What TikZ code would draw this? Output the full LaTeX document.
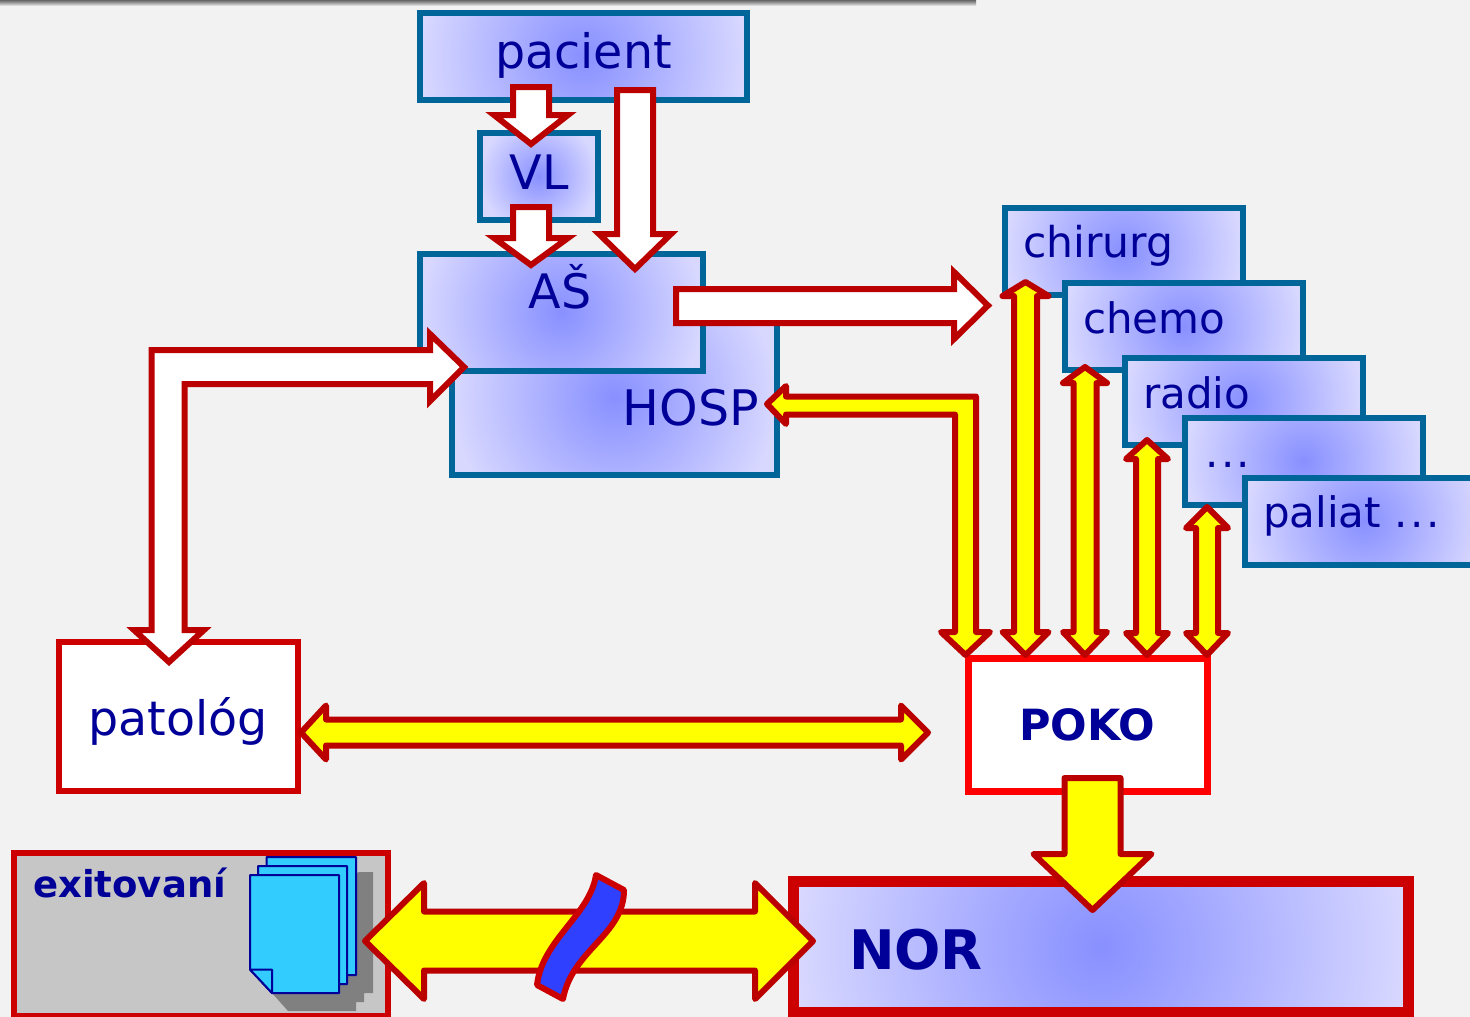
\documentclass[tikz,border=0pt]{standalone}
\usepackage{fontspec}
\setmainfont{DejaVu Sans}
\usetikzlibrary{calc}
\definecolor{bgc}{HTML}{F2F2F2}
\definecolor{boxedge}{HTML}{006699}
\definecolor{inkc}{HTML}{000099}
\definecolor{arrowred}{HTML}{BB0000}
\definecolor{darkred}{HTML}{CC0000}
\definecolor{purered}{HTML}{FF0000}
\definecolor{yel}{HTML}{FFFF00}
\definecolor{wavec}{HTML}{3040FF}
\definecolor{exitc}{HTML}{C6C6C6}
\definecolor{shadowc}{HTML}{808080}
\definecolor{gradmid}{HTML}{8890FF}
\definecolor{gradout}{HTML}{D8D8FF}
\definecolor{pagec}{HTML}{33CCFF}
\pgfdeclareradialshading{bluegrad}{\pgfpoint{0bp}{0bp}}{color(0bp)=(gradmid); color(25bp)=(gradout); color(50bp)=(gradout)}
\tikzset{
  gradbox/.style={draw=boxedge,line width=6pt,fill=gradout,inner sep=0pt,outer sep=0pt,
    path picture={\shade[shading=bluegrad] (path picture bounding box.center) circle (#1pt);}},
  lab/.style={text=inkc,inner sep=0pt,font=\fontsize{#1}{#1}\selectfont},
  blab/.style={text=inkc,inner sep=0pt,font=\fontsize{#1}{#1}\selectfont\bfseries},
  whitearrow/.style={draw=arrowred,fill=white,line width=6pt,line join=miter,miter limit=10},
  yellowarrow/.style={draw=arrowred,fill=yel,line width=6pt,line join=round},
  pagesheet/.style={draw=inkc,fill=pagec,line width=2pt,line join=round},
}
% x, ytop, ybase, ytip, half body, half head, style
\newcommand{\bkdown}[7]{\draw[#7] ({#1-#5},#2) -- ({#1+#5},#2) -- ({#1+#5},#3) -- ({#1+#6},#3) -- (#1,#4) -- ({#1-#6},#3) -- ({#1-#5},#3) -- cycle;}
% x, ytiptop, ybasetop, ybasebot, ytipbot, half body, half head
\newcommand{\bkvdouble}[7]{\draw[yellowarrow] (#1,#2) -- ({#1+#7},#3) -- ({#1+#6},#3) -- ({#1+#6},#4) -- ({#1+#7},#4) -- (#1,#5) -- ({#1-#7},#4) -- ({#1-#6},#4) -- ({#1-#6},#3) -- ({#1-#7},#3) -- cycle;}
% y, xtipl, xbasel, xbaser, xtipr, half body, half head
\newcommand{\bkhdouble}[7]{\draw[yellowarrow] (#2,#1) -- (#3,{#1-#7}) -- (#3,{#1-#6}) -- (#4,{#1-#6}) -- (#4,{#1-#7}) -- (#5,#1) -- (#4,{#1+#7}) -- (#4,{#1+#6}) -- (#3,{#1+#6}) -- (#3,{#1+#7}) -- cycle;}
% name, x0,y0,x1,y1 (centre lines)
\newcommand{\gbox}[5]{\pgfmathsetmacro{\rad}{(#4-#2)/2}\node[gradbox=\rad,minimum width={(#4-#2)*1pt},minimum height={(#5-#3)*1pt}] (#1) at ({(#2+#4)/2},{(#3+#5)/2}) {};}
\newcommand{\wdots}{.\kern2.5pt.\kern2.5pt.}
\begin{document}
\begin{tikzpicture}[x=1pt,y=-1pt]
\useasboundingbox (0,0) rectangle (1470,1017);
\fill[bgc] (0,0) rectangle (1470,1017);
% top shadow band
\shade[top color=black!60,bottom color=bgc,middle color=black!35] (0,0) rectangle (976,6);
% boxes
\gbox{pacient}{419.5}{12.5}{746.5}{99.5}
\gbox{vl}{479.5}{132.5}{597.5}{219.5}
\gbox{hosp}{451.5}{320}{776.5}{474.5}
\gbox{as}{419.5}{253.5}{702.5}{370.5}
\gbox{chirurg}{1004.5}{207.5}{1242.5}{294.5}
\gbox{chemo}{1064.5}{282.5}{1302.5}{369.5}
\gbox{radio}{1124.5}{357.5}{1362.5}{444.5}
\gbox{dots}{1184.5}{417.5}{1422.5}{504.5}
\gbox{paliat}{1244.5}{477.5}{1482.5}{564.5}
\node[draw=darkred,fill=white,line width=6pt,inner sep=0,outer sep=0,minimum width=239pt,minimum height=149pt] (patolog) at (178.5,716) {};
\node[draw=purered,fill=white,line width=7pt,inner sep=0,outer sep=0,minimum width=239pt,minimum height=133pt] (poko) at (1087.5,724.5) {};
\gbox{nor}{793.5}{881.5}{1408}{1012}
\draw[darkred,line width=11pt] (nor.north west) rectangle (nor.south east);
\node[draw=darkred,fill=exitc,line width=6pt,inner sep=0,outer sep=0,minimum width=374pt,minimum height=163pt] (exit) at (200.5,934) {};
% texts
\node[lab=47.5] at (583.5,55) {pacient};
\node[lab=47.5] at (539,172) {VL};
\node[lab=47.5] at (560,287) {AŠ};
\node[lab=49] at (691,408) {HOSP};
\node[lab=42.5,anchor=west] at (1023,246) {chirurg};
\node[lab=42,anchor=west] at (1083,318) {chemo};
\node[lab=42,anchor=west] at (1143,393) {radio};
\node[lab=42,anchor=west] at (1205,465) {\wdots};
\node[lab=42,anchor=west] at (1263,516) {paliat \wdots};
\node[lab=47.5] at (178,721) {patológ};
\node[blab=43] at (1087,725) {POKO};
\node[blab=54.5] at (916,950) {NOR};
\node[blab=37,anchor=west] at (33,883) {exitovaní};
% document stack
\fill[shadowc] (359,872) -- (373,872) -- (373,993) -- (364,993) -- (364,1002) -- (356,1002) -- (356,1011) -- (288,1011) -- (272,993) -- (300,900) -- cycle;
\draw[pagesheet] (266.5,857) -- (356,857) -- (356,975) -- (288,975) -- (266.5,952) -- cycle;
\draw[pagesheet] (258,866) -- (347,866) -- (347,984) -- (280,984) -- (258,960) -- cycle;
\draw[pagesheet] (250,875) -- (339,875) -- (339,993) -- (272,993) -- (250,969.5) -- cycle;
\draw[pagesheet] (250,969.5) -- (272,969.5) -- (272,993) -- cycle;
% white arrows
\bkdown{531}{87}{115}{144}{18}{37}{whitearrow}
\bkdown{531}{207}{238}{265}{18}{37}{whitearrow}
\bkdown{635}{90}{234}{269}{18}{36}{whitearrow}
\draw[whitearrow] (676,289) -- (954,289) -- (954,272) -- (988,305.5) -- (954,339) -- (954,323) -- (676,323) -- cycle;
\draw[whitearrow] (151.5,350) -- (430,350) -- (430,334) -- (464,367) -- (430,401) -- (430,384) -- (184.5,384) -- (184.5,630) -- (204,630) -- (169,662) -- (134,630) -- (151.5,630) -- cycle;
% yellow arrows
\draw[yellowarrow] (767,404) -- (786,386) -- (786,396.5) -- (976,396.5) -- (976,632) -- (990,632) -- (965.5,655) -- (941,632) -- (955,632) -- (955,414.5) -- (786,414.5) -- (786,424) -- cycle;
\bkvdouble{1025.5}{282}{296}{632}{655}{11.5}{23}
\bkvdouble{1085}{367}{383}{632}{655}{11.5}{22}
\bkvdouble{1147}{440}{459}{633}{655}{11}{21}
\bkvdouble{1207}{507}{528}{633}{655}{11}{21}
\bkhdouble{732.5}{301}{326}{901}{928}{13}{27}
\bkdown{1092.5}{778}{854}{910}{28}{59}{yellowarrow}
\bkhdouble{941}{365}{424}{755}{813}{29.5}{58}
% wave
\draw[draw=darkred,fill=wavec,line width=6pt,line join=round] (596,875) -- (624,890) .. controls (624,935) and (572,950) .. (563,999) -- (537,985) .. controls (542,940) and (590,915) .. (596,875) -- cycle;
\end{tikzpicture}
\end{document}
